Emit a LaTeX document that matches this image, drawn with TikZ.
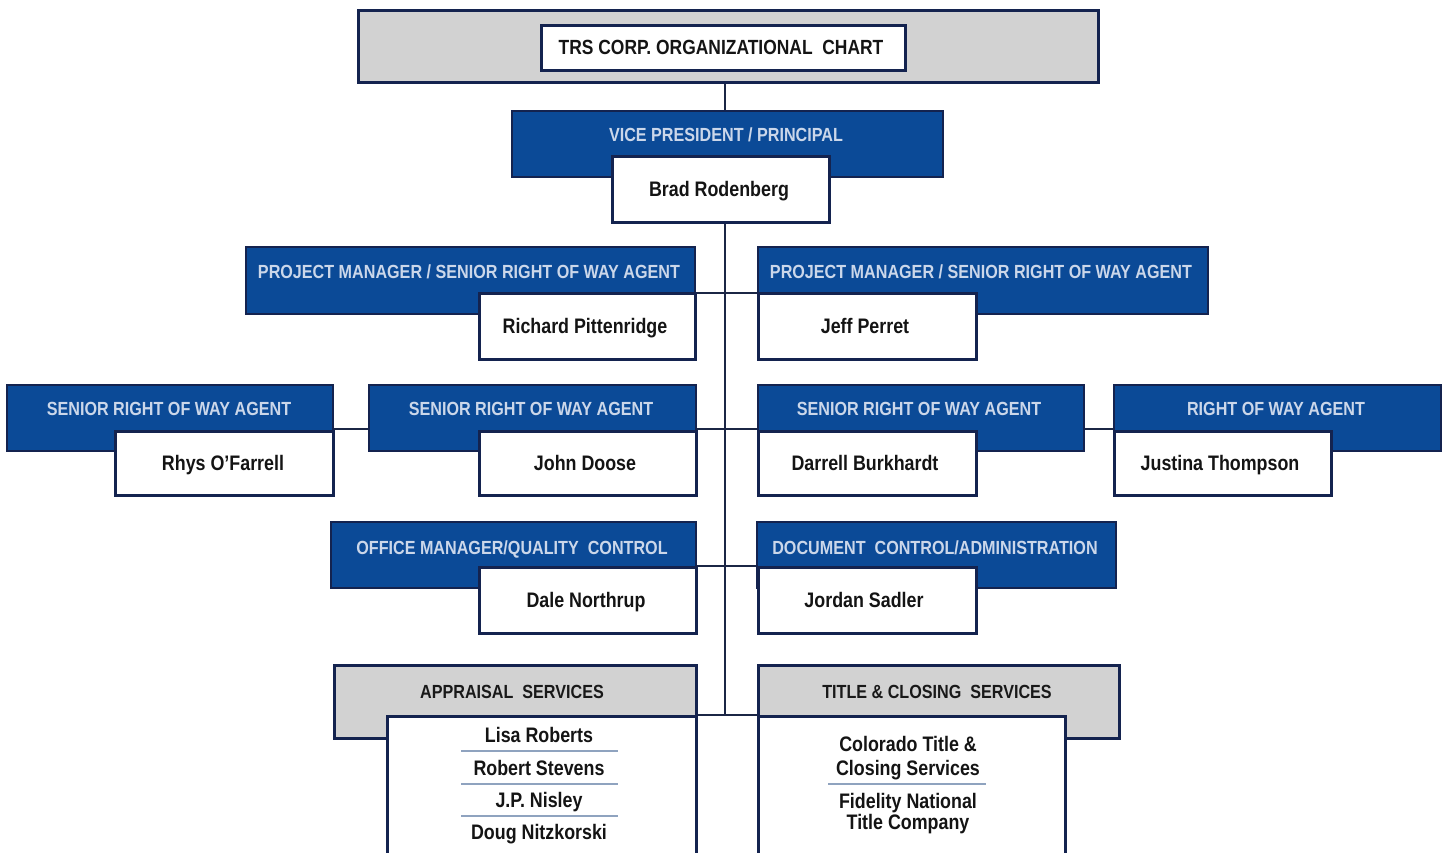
\documentclass[tikz,border=0pt]{standalone}
\usepackage{fontspec}
\setmainfont{Liberation Sans}[FakeStretch=0.85]
\definecolor{navy}{HTML}{14234F}
\definecolor{blueF}{HTML}{0B4A97}
\definecolor{lightT}{HTML}{CBD7EA}
\definecolor{grayF}{HTML}{D2D2D2}
\definecolor{sepC}{HTML}{8FA3BF}
\definecolor{lineC}{HTML}{1B2645}
\tikzset{
  bluebox/.style={draw=navy, line width=2pt, fill=blueF, inner sep=0pt, anchor=north west},
  whitebox/.style={draw=navy, line width=2.6pt, fill=white, inner sep=0pt, anchor=north west},
  graybox/.style={draw=navy, line width=2.6pt, fill=grayF, inner sep=0pt, anchor=north west},
  roletxt/.style={text=lightT, anchor=base, inner sep=0pt, font=\bfseries\fontsize{19}{22}\selectfont},
  graytxt/.style={text=black!90, anchor=base, inner sep=0pt, font=\bfseries\fontsize{19}{22}\selectfont},
  nametxt/.style={text=black!92, anchor=base, inner sep=0pt, font=\bfseries\fontsize{21}{24}\selectfont},
  conn/.style={draw=lineC, line width=1.8pt},
  sep/.style={draw=sepC, line width=1.2pt}
}
\begin{document}
\begin{tikzpicture}[x=1pt,y=-1pt]
\path[use as bounding box] (0,0) rectangle (1445,852);
\clip (0,0) rectangle (1445,852);
% connectors first (drawn behind)
\coordinate (t81) at (725,81);
\coordinate (t110) at (725,110);
\coordinate (t221) at (725,221);
\coordinate (t715) at (725,715);
\draw[conn] (t81) -- (t110);
\draw[conn] (t221) -- (t715);
\coordinate (r1a) at (694,293); \coordinate (r1b) at (757,293);
\coordinate (r2a) at (332,429); \coordinate (r2b) at (368,429);
\coordinate (r2c) at (695,429); \coordinate (r2d) at (757,429);
\coordinate (r2e) at (1083,429); \coordinate (r2f) at (1113,429);
\coordinate (r3a) at (695,566); \coordinate (r3b) at (757,566);
\coordinate (r4a) at (695,715); \coordinate (r4b) at (757,715);
\draw[conn] (r1a) -- (r1b);
\draw[conn] (r2a) -- (r2b);
\draw[conn] (r2c) -- (r2d);
\draw[conn] (r2e) -- (r2f);
\draw[conn] (r3a) -- (r3b);
\draw[conn] (r4a) -- (r4b);
% title
\node[graybox, line width=3pt, minimum width=740pt, minimum height=72pt] (title) at (357,9) {};
\node[whitebox, line width=3pt, minimum width=364pt, minimum height=45pt] (titlew) at (540,24) {};
\node[nametxt, font=\bfseries\fontsize{20.5}{24}\selectfont] (titlet) at (721,54) {TRS CORP.\ ORGANIZATIONAL\ \ CHART};
% VP
\node[bluebox, minimum width=431pt, minimum height=66pt] (vp) at (511,110) {};
\node[whitebox, minimum width=217pt, minimum height=66pt] (brad) at (611,155) {};
\node[roletxt] (vpt) at (726,141) {VICE PRESIDENT / PRINCIPAL};
\node[nametxt] (bradt) at (719,196) {Brad Rodenberg};
% PM left / right
\node[bluebox, minimum width=449pt, minimum height=67pt] (pml) at (245,246) {};
\node[whitebox, minimum width=216pt, minimum height=66pt] (rich) at (478,292) {};
\node[roletxt] (pmlt) at (469,278) {PROJECT\ MANAGER / SENIOR RIGHT OF WAY\ AGENT};
\node[nametxt] (richt) at (585,333) {Richard Pittenridge};
\node[bluebox, minimum width=450pt, minimum height=67pt] (pmr) at (757,246) {};
\node[whitebox, minimum width=218pt, minimum height=66pt] (jeff) at (757,292) {};
\node[roletxt] (pmrt) at (981,278) {PROJECT\ MANAGER / SENIOR RIGHT OF WAY\ AGENT};
\node[nametxt] (jefft) at (865,333) {Jeff Perret};
% row 3
\node[bluebox, minimum width=326pt, minimum height=66pt] (s1) at (6,384) {};
\node[whitebox, minimum width=218pt, minimum height=64pt] (rhys) at (114,430) {};
\node[roletxt] (s1t) at (169,415) {SENIOR RIGHT\ OF WAY\ AGENT};
\node[nametxt] (rhyst) at (223,470) {Rhys O’Farrell};
\node[bluebox, minimum width=327pt, minimum height=66pt] (s2) at (368,384) {};
\node[whitebox, minimum width=217pt, minimum height=64pt] (doose) at (478,430) {};
\node[roletxt] (s2t) at (531,415) {SENIOR RIGHT\ OF WAY\ AGENT};
\node[nametxt] (dooset) at (585,470) {John Doose};
\node[bluebox, minimum width=326pt, minimum height=66pt] (s3) at (757,384) {};
\node[whitebox, minimum width=218pt, minimum height=64pt] (darrell) at (757,430) {};
\node[roletxt] (s3t) at (919,415) {SENIOR RIGHT\ OF WAY\ AGENT};
\node[nametxt] (darrellt) at (865,470) {Darrell Burkhardt};
\node[bluebox, minimum width=327pt, minimum height=66pt] (s4) at (1113,384) {};
\node[whitebox, minimum width=217pt, minimum height=64pt] (justina) at (1113,430) {};
\node[roletxt] (s4t) at (1276,415) {RIGHT\ OF WAY\ AGENT};
\node[nametxt] (justinat) at (1220,470) {Justina Thompson};
% row 4
\node[bluebox, minimum width=365pt, minimum height=66pt] (om) at (330,521) {};
\node[whitebox, minimum width=217pt, minimum height=66pt] (dale) at (478,566) {};
\node[roletxt] (omt) at (512,554) {OFFICE MANAGER/QUALITY\ \ CONTROL};
\node[nametxt] (dalet) at (586,607) {Dale Northrup};
\node[bluebox, minimum width=359pt, minimum height=66pt] (dc) at (756,521) {};
\node[whitebox, minimum width=218pt, minimum height=66pt] (jordan) at (757,566) {};
\node[roletxt] (dct) at (935,554) {DOCUMENT\ \ CONTROL/ADMINISTRATION};
\node[nametxt] (jordant) at (864,607) {Jordan Sadler};
% row 5
\node[graybox, minimum width=362pt, minimum height=73pt] (app) at (333,664) {};
\node[whitebox, minimum width=309pt, minimum height=160pt] (appw) at (386,715) {};
\node[graytxt] (appt) at (512,698) {APPRAISAL\ \ SERVICES};
\node[nametxt] (n1) at (539,742.5) {Lisa Roberts};
\node[nametxt] (n2) at (539,775.5) {Robert Stevens};
\node[nametxt] (n3) at (539,807.5) {J.P. Nisley};
\node[nametxt] (n4) at (539,839.5) {Doug Nitzkorski};
\coordinate (sa1) at (461,751); \coordinate (sb1) at (618,751);
\coordinate (sa2) at (461,784); \coordinate (sb2) at (618,784);
\coordinate (sa3) at (461,816); \coordinate (sb3) at (618,816);
\draw[sep] (sa1) -- (sb1);
\draw[sep] (sa2) -- (sb2);
\draw[sep] (sa3) -- (sb3);
\node[graybox, minimum width=361pt, minimum height=73pt] (tc) at (757,664) {};
\node[whitebox, minimum width=307pt, minimum height=160pt] (tcw) at (757,715) {};
\node[graytxt] (tct) at (937,698) {TITLE \& CLOSING\ \ SERVICES};
\node[nametxt] (c1) at (908,751.5) {Colorado Title \&};
\node[nametxt] (c2) at (908,775.5) {Closing Services};
\node[nametxt] (c3) at (908,808.5) {Fidelity National};
\node[nametxt] (c4) at (908,829.5) {Title Company};
\coordinate (sc1) at (828,784); \coordinate (sd1) at (986,784);
\draw[sep] (sc1) -- (sd1);
\end{tikzpicture}
\end{document}
